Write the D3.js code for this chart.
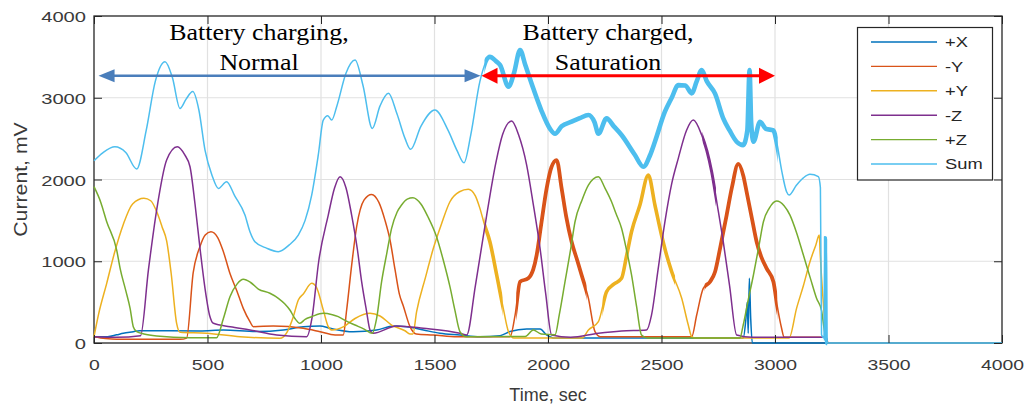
<!DOCTYPE html>
<html>
<head>
<meta charset="utf-8">
<script src="https://cdn.jsdelivr.net/npm/d3@7"></script>
<style>
  html, body { margin: 0; padding: 0; background: #fff; }
  svg { display: block; }
</style>
</head>
<body>
<svg id="chart" width="1029" height="410"></svg>
<script>
// Solar panel currents per face, recorded over one orbit segment (time in s, current in mV)
const seriesNames = ["+X", "-Y", "+Y", "-Z", "+Z", "Sum"];
const xTicks = [0, 500, 1000, 1500, 2000, 2500, 3000, 3500, 4000];
const yTicks = [0, 1000, 2000, 3000, 4000];

const plusX = [[0,77],[60,77],[100,100],[129,119],[173,138],[200,150],[467,147],[570,159],[716,140],[834,159],[922,200],[996,208],[1040,180],[1142,138],[1245,159],[1319,208],[1377,200],[1451,159],[1524,119],[1612,98],[1700,77],[1789,90],[1833,140],[1906,171],[1965,171],[1994,100],[2030,60],[2860,60],[2872,300],[2878,500],[2882,120],[2887,791],[2893,300],[2900,0],[3232,0]];

const minusY = [[0,77],[50,55],[100,45],[200,45],[380,45],[408,60],[437,860],[467,1180],[490,1320],[515,1361],[545,1290],[570,1117],[599,850],[629,640],[658,420],[687,261],[702,200],[790,208],[922,180],[996,138],[1062,98],[1098,98],[1113,404],[1135,950],[1157,1422],[1190,1750],[1223,1818],[1255,1720],[1282,1500],[1304,1260],[1326,900],[1345,600],[1363,450],[1392,200],[1420,110],[1495,98],[1600,77],[1833,77],[1855,342],[1877,750],[1913,791],[1935,900],[1950,1076],[1970,1450],[1994,1892],[2015,2150],[2038,2238],[2060,1892],[2080,1550],[2104,1239],[2130,1000],[2148,832],[2178,547],[2207,138],[2230,77],[2633,77],[2655,342],[2684,669],[2714,750],[2736,872],[2758,1158],[2787,1565],[2810,1900],[2838,2190],[2860,2050],[2875,1850],[2900,1500],[2919,1239],[2940,1050],[2963,913],[2993,750],[3010,450],[3029,180],[3040,70],[3225,70],[3232,0]];

const plusY = [[0,77],[20,350],[56,730],[90,1100],[129,1450],[170,1700],[220,1770],[250,1740],[280,1580],[300,1420],[320,1250],[340,850],[364,241],[380,130],[496,119],[643,77],[819,57],[850,130],[878,322],[900,526],[922,600],[959,730],[980,680],[1010,404],[1032,200],[1047,159],[1100,200],[1150,300],[1216,363],[1260,330],[1311,220],[1370,150],[1392,110],[1405,110],[1421,380],[1460,800],[1495,1158],[1530,1450],[1568,1728],[1610,1850],[1649,1880],[1680,1800],[1700,1647],[1720,1450],[1744,1239],[1774,832],[1803,424],[1826,138],[1850,60],[2150,60],[2178,159],[2222,261],[2258,628],[2290,720],[2324,791],[2345,1050],[2368,1361],[2405,1688],[2442,2055],[2471,1688],[2500,1321],[2520,1100],[2545,872],[2589,547],[2618,220],[2633,77],[2650,60],[3062,60],[3095,424],[3125,700],[3154,994],[3180,1200],[3195,1321],[3199,1100],[3210,600],[3218,300],[3225,50],[3232,0]];

const minusZ = [[0,77],[100,70],[205,90],[240,900],[276,1626],[320,2238],[367,2400],[400,2300],[423,2156],[445,1700],[467,1158],[489,669],[510,330],[526,241],[600,200],[687,160],[805,98],[937,77],[960,300],[990,1000],[1032,1565],[1060,1900],[1084,2034],[1110,1900],[1135,1565],[1160,1150],[1179,750],[1200,400],[1216,159],[1230,119],[1333,208],[1451,180],[1612,119],[1642,98],[1680,700],[1730,1565],[1770,2200],[1800,2550],[1840,2715],[1870,2550],[1906,2177],[1935,1700],[1965,1158],[1990,600],[2016,98],[2100,70],[2222,119],[2324,147],[2434,159],[2456,342],[2485,900],[2515,1483],[2545,1950],[2574,2259],[2610,2600],[2640,2727],[2677,2544],[2700,2350],[2721,2095],[2745,1700],[2772,1239],[2800,700],[2831,98],[2900,70],[3225,70],[3232,0]];

const plusZ = [[0,1912],[30,1720],[56,1483],[100,1137],[115,913],[140,640],[159,424],[173,200],[188,138],[220,110],[276,86],[423,65],[540,65],[570,300],[599,566],[630,720],[658,779],[690,740],[724,660],[775,608],[812,547],[840,480],[863,404],[885,300],[907,241],[930,290],[959,322],[1010,363],[1050,345],[1076,322],[1110,270],[1150,220],[1190,170],[1226,119],[1245,300],[1267,750],[1290,1100],[1311,1403],[1335,1600],[1355,1688],[1380,1760],[1405,1777],[1440,1700],[1470,1550],[1509,1300],[1540,1000],[1568,689],[1590,400],[1612,140],[1640,77],[1900,80],[1935,159],[1970,110],[2031,100],[2050,350],[2075,750],[2100,1150],[2119,1483],[2150,1750],[2178,1932],[2222,2034],[2250,1900],[2280,1728],[2300,1580],[2324,1403],[2345,1150],[2368,832],[2390,450],[2412,98],[2440,60],[2845,60],[2860,220],[2880,500],[2905,832],[2930,1200],[2949,1483],[2975,1650],[3007,1737],[3040,1680],[3066,1565],[3095,1350],[3125,1076],[3155,800],[3183,547],[3205,400],[3215,200],[3225,50],[3232,0]];

const sumTotal = [[0,2230],[40,2330],[92,2400],[140,2330],[188,2128],[230,2600],[270,3200],[313,3440],[345,3250],[379,2870],[405,2980],[435,3075],[462,2850],[489,2360],[520,2050],[548,1890],[584,1973],[620,1800],[665,1565],[687,1361],[709,1239],[760,1160],[812,1117],[860,1200],[900,1321],[930,1500],[959,1810],[988,2300],[1010,2727],[1030,2780],[1047,2727],[1070,2900],[1110,3300],[1150,3461],[1185,3150],[1226,2625],[1260,2900],[1297,3054],[1335,2800],[1370,2503],[1395,2369],[1440,2650],[1502,2850],[1560,2600],[1600,2350],[1630,2205],[1660,2550],[1700,3200],[1744,3500],[1770,3450],[1789,3400],[1826,3135],[1850,3300],[1877,3583],[1900,3400],[1935,3115],[1970,2850],[2009,2620],[2031,2560],[2060,2650],[2104,2707],[2140,2750],[2178,2789],[2205,2700],[2222,2560],[2258,2748],[2290,2650],[2324,2544],[2383,2299],[2420,2156],[2450,2300],[2471,2462],[2515,2829],[2545,3000],[2574,3155],[2605,3150],[2633,3054],[2655,3200],[2677,3339],[2700,3200],[2736,3050],[2772,2748],[2800,2600],[2831,2462],[2860,2420],[2878,2600],[2888,3339],[2895,2700],[2905,2462],[2934,2707],[2960,2620],[2993,2600],[3007,2462],[3030,2100],[3051,1850],[3062,1810],[3095,1932],[3125,2020],[3154,2063],[3191,2034],[3200,1900],[3205,100],[3216,60],[3220,1280],[3223,200],[3226,1250],[3230,0],[4000,0]];

// Stretches of telemetry where the signal is noisy (drawn as a thicker trace)
const noisyPlusY = [[1720, 1800], [2240, 2560]];
const noisyMinusY = [[1860, 2170], [2690, 3010]];
const noisyMinusZ = [[2680, 2740]];
const noisySum = [[1720, 3012], [3215, 3230]];

// Phase annotations: [start s, end s]
const chargingSpan = [20, 1703];
const saturatedSpan = [1707, 3000];
const arrowLevel = 3270;

const series = [
  { name: seriesNames[0], values: plusX,  color: "#0072BD", noisy: [], thick: 3.6 },
  { name: seriesNames[1], values: minusY, color: "#D95319", noisy: noisyMinusY, thick: 3.8 },
  { name: seriesNames[2], values: plusY,  color: "#EDB120", noisy: noisyPlusY, thick: 3.6 },
  { name: seriesNames[3], values: minusZ, color: "#7E2F8E", noisy: noisyMinusZ, thick: 3 },
  { name: seriesNames[4], values: plusZ,  color: "#77AC30", noisy: [], thick: 3.6 },
  { name: seriesNames[5], values: sumTotal, color: "#4DBEEE", noisy: noisySum, thick: 4.6 }
];

const svg = d3.select("#chart");
const plot = { left: 94, right: 1002, top: 16, bottom: 343 };
const x = d3.scaleLinear().domain([0, 4000]).range([plot.left, plot.right]);
const y = d3.scaleLinear().domain([0, 4000]).range([plot.bottom, plot.top]);

const sansFont = "'Liberation Sans', Arial, Helvetica, sans-serif";
const serifFont = "'Liberation Serif', 'Times New Roman', serif";
const axisColor = "#262626";

function stretch(sel, f) {
  sel.each(function () {
    const w = this.getComputedTextLength();
    d3.select(this).attr("textLength", w * f).attr("lengthAdjust", "spacingAndGlyphs");
  });
}

// Grid
const grid = svg.append("g").attr("class", "grid");
grid.selectAll("line.gx").data(xTicks.slice(1, -1)).join("line")
  .attr("x1", d => x(d)).attr("x2", d => x(d))
  .attr("y1", plot.top).attr("y2", plot.bottom)
  .attr("stroke", "#e1e1e1").attr("stroke-width", 1.2);
grid.selectAll("line.gy").data(yTicks.slice(1, -1)).join("line")
  .attr("y1", d => y(d)).attr("y2", d => y(d))
  .attr("x1", plot.left).attr("x2", plot.right)
  .attr("stroke", "#e1e1e1").attr("stroke-width", 1.2);

// Box
svg.append("rect")
  .attr("x", plot.left).attr("y", plot.top)
  .attr("width", plot.right - plot.left).attr("height", plot.bottom - plot.top)
  .attr("fill", "none").attr("stroke", axisColor).attr("stroke-width", 1.3);

// Data lines
const line = d3.line().x(d => x(d[0])).y(d => y(d[1])).curve(d3.curveMonotoneX);
const defs = svg.append("defs");
const lines = svg.append("g").attr("class", "series");
series.forEach((s, i) => {
  lines.append("path").datum(s.values)
    .attr("d", line).attr("fill", "none")
    .attr("stroke", s.color).attr("stroke-width", 1.5)
    .attr("stroke-linejoin", "round");
  if (s.noisy.length) {
    const cp = defs.append("clipPath").attr("id", "noise-" + i);
    cp.selectAll("rect").data(s.noisy).join("rect")
      .attr("x", d => x(d[0])).attr("width", d => x(d[1]) - x(d[0]))
      .attr("y", 0).attr("height", 410);
    lines.append("path").datum(s.values)
      .attr("d", line).attr("fill", "none")
      .attr("stroke", s.color).attr("stroke-width", s.thick)
      .attr("stroke-linejoin", "round")
      .attr("clip-path", `url(#noise-${i})`);
  }
});

// Axes (ticks inside the box on all four sides)
const tickLen = 8;
const axB = svg.append("g").attr("transform", `translate(0,${plot.bottom})`)
  .call(d3.axisBottom(x).tickValues(xTicks).tickSizeInner(-tickLen).tickSizeOuter(0).tickFormat(d3.format("d")));
const axL = svg.append("g").attr("transform", `translate(${plot.left},0)`)
  .call(d3.axisLeft(y).tickValues(yTicks).tickSizeInner(-tickLen).tickSizeOuter(0).tickFormat(d3.format("d")));
const axT = svg.append("g").attr("transform", `translate(0,${plot.top})`)
  .call(d3.axisTop(x).tickValues(xTicks).tickSizeInner(-tickLen).tickSizeOuter(0).tickFormat(""));
const axR = svg.append("g").attr("transform", `translate(${plot.right},0)`)
  .call(d3.axisRight(y).tickValues(yTicks).tickSizeInner(-tickLen).tickSizeOuter(0).tickFormat(""));
[axB, axL, axT, axR].forEach(a => {
  a.select(".domain").remove();
  a.selectAll(".tick line").attr("stroke", axisColor).attr("stroke-width", 1);
});
axB.selectAll(".tick text")
  .attr("y", 27).attr("dy", 0)
  .attr("font-family", sansFont).attr("font-size", 15.5).attr("fill", "#3a3a3a");
axL.selectAll(".tick text")
  .attr("x", -8).attr("dy", "0.36em")
  .attr("font-family", sansFont).attr("font-size", 15.5).attr("fill", "#3a3a3a");
stretch(axB.selectAll(".tick text"), 1.25);
stretch(axL.selectAll(".tick text"), 1.3);

// Axis labels
svg.append("text")
  .attr("x", (plot.left + plot.right) / 2).attr("y", 401)
  .attr("text-anchor", "middle")
  .attr("font-family", sansFont).attr("font-size", 18).attr("fill", "#3a3a3a")
  .text("Time, sec");
const yl = svg.append("text")
  .attr("transform", `translate(27,${(plot.top + plot.bottom) / 2}) rotate(-90)`)
  .attr("text-anchor", "middle")
  .attr("font-family", sansFont).attr("font-size", 18).attr("fill", "#3a3a3a")
  .text("Current, mV");
stretch(yl, 1.18);

// Phase arrows
function arrow(t0, t1, color, width, headLen, headHalf) {
  const g = svg.append("g");
  const yy = y(arrowLevel), xa = x(t0), xb = x(t1);
  g.append("line").attr("x1", xa + headLen - 1).attr("x2", xb - headLen + 1)
    .attr("y1", yy).attr("y2", yy).attr("stroke", color).attr("stroke-width", width);
  g.append("path").attr("d", `M${xa},${yy}L${xa + headLen},${yy - headHalf}L${xa + headLen},${yy + headHalf}Z`).attr("fill", color);
  g.append("path").attr("d", `M${xb},${yy}L${xb - headLen},${yy - headHalf}L${xb - headLen},${yy + headHalf}Z`).attr("fill", color);
}
arrow(chargingSpan[0], chargingSpan[1], "#4A7EBB", 2.6, 16, 6.5);
arrow(saturatedSpan[0], saturatedSpan[1], "#FF0000", 3, 16, 8);

function phaseLabel(lines2, cx) {
  const t = svg.append("g");
  lines2.forEach((s, i) => {
    const el = t.append("text")
      .attr("x", cx).attr("y", 39.5 + i * 30.5)
      .attr("text-anchor", "middle")
      .attr("font-family", serifFont).attr("font-size", 24).attr("fill", "#000")
      .text(s);
    stretch(el, 1.08);
  });
}
phaseLabel(["Battery charging,", "Normal"], 259);
phaseLabel(["Battery charged,", "Saturation"], 608);

// Legend
const leg = svg.append("g");
leg.append("rect").attr("x", 857.5).attr("y", 27.5).attr("width", 135).attr("height", 152.5)
  .attr("fill", "#fff").attr("stroke", axisColor).attr("stroke-width", 1.2);
series.forEach((s, i) => {
  const yy = 42 + i * 24.4;
  leg.append("line").attr("x1", 871).attr("x2", 937).attr("y1", yy).attr("y2", yy)
    .attr("stroke", s.color).attr("stroke-width", 1.4);
  const tx = leg.append("text").attr("x", 945).attr("y", yy).attr("dy", "0.36em")
    .attr("font-family", sansFont).attr("font-size", 15).attr("fill", "#262626")
    .text(s.name);
  stretch(tx, 1.22);
});
</script>
</body>
</html>
